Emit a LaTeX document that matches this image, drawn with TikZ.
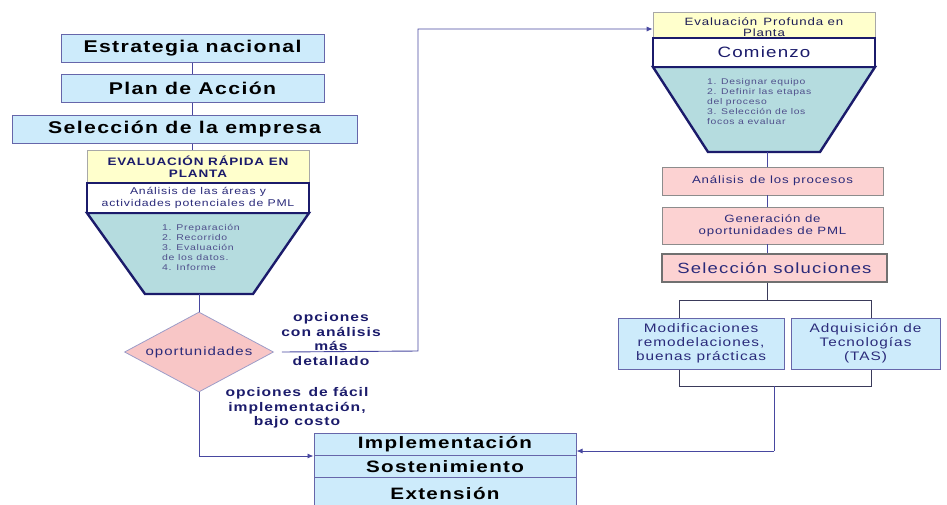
\documentclass[tikz,border=0pt]{standalone}
\usepackage{fontspec}
\setmainfont{Liberation Sans}[FakeStretch=1.25, LetterSpace=8]
\usetikzlibrary{arrows.meta, shapes.geometric}

\newcommand\setfs[2]{\fontsize{#1}{#2}\selectfont}

\definecolor{edgeblue}{HTML}{6666AA}
\definecolor{boxblue}{HTML}{CDEBFB}
\definecolor{paleyellow}{HTML}{FFFFCC}
\definecolor{titleedge}{HTML}{A8A8A8}
\definecolor{navy}{HTML}{1B1B6B}
\definecolor{funnelfill}{HTML}{B5DCDF}
\definecolor{pinkbox}{HTML}{FCD2D2}
\definecolor{pinkedge}{HTML}{8C8C8C}
\definecolor{diamondfill}{HTML}{F8C6C6}
\definecolor{diamondedge}{HTML}{9C9CC8}
\definecolor{linkcolor}{HTML}{4848A0}
\definecolor{branchcolor}{HTML}{3A3A5A}
\definecolor{navytext}{HTML}{2A2A7A}
\definecolor{softtext}{HTML}{50508C}

\tikzset{
  headbox/.style={draw=edgeblue, line width=1pt, fill=boxblue, minimum height=28pt,
    inner sep=0pt, font=\bfseries\setfs{17}{20}, text=black},
  titlebox/.style={draw=titleedge, line width=0.6pt, fill=paleyellow, inner sep=0pt,
    align=center},
  startbox/.style={draw=navy, line width=2.4pt, fill=white, inner sep=0pt, align=center},
  funnel/.style={draw=navy, line width=2.4pt, fill=funnelfill, line join=miter},
  listtext/.style={inner sep=0pt, align=left, text=softtext, font=\setfs{8.4}{10}},
  stepbox/.style={draw=pinkedge, line width=0.8pt, fill=pinkbox, inner sep=0pt,
    minimum width=221pt, minimum height=28pt, align=center, text=navytext,
    font=\setfs{10.6}{12}},
  optbox/.style={draw=edgeblue, line width=1pt, fill=boxblue, inner sep=0pt,
    minimum height=51pt, align=center, text=navytext, font=\setfs{12.3}{14}},
  decision/.style={shape=diamond, aspect=1.86, minimum width=149pt, minimum height=80pt,
    inner sep=0pt, draw=diamondedge, line width=0.8pt, fill=diamondfill, text=navytext,
    font=\setfs{12}{14}},
  pathlabel/.style={inner sep=0pt, align=center, text=navy, font=\bfseries\setfs{12.5}{14.5}},
  rowbox/.style={draw=edgeblue, line width=1pt, fill=boxblue, inner sep=0pt,
    minimum width=262pt, font=\bfseries\setfs{16.5}{19}, text=black},
  link/.style={draw=linkcolor, line width=0.9pt},
  branch/.style={draw=branchcolor, line width=0.9pt},
  arrowlink/.style={link, -{Latex[length=6pt, width=5pt]}},
}

\begin{document}
\begin{tikzpicture}[x=1pt, y=-1pt]
\useasboundingbox (0,0) rectangle (947,504);

% ---------- left column: national strategy down to the quick assessment
\node[headbox, minimum width=263pt] (est) at (192.5,48) {Estrategia nacional};
\node[headbox, minimum width=263pt] (plan) at (192.5,88.5) {Plan de Acción};
\node[headbox, minimum width=345pt] (firm) at (184.5,129) {Selección de la empresa};

\draw[funnel] (87,213) -- (309,213) -- (253,294) -- (145,294) -- cycle;
\coordinate (rapidtip) at (199,294);
\node[titlebox, minimum width=222pt, minimum height=33pt, text=navy,
  font=\bfseries\setfs{10.8}{11.5}] (rapid) at (198,166.5) {EVALUACIÓN RÁPIDA EN\\PLANTA};
\node[startbox, minimum width=222pt, minimum height=30pt, text=navytext,
  font=\setfs{9.8}{12}] (areas) at (198,198) {Análisis de las áreas y\\actividades potenciales de PML};
\node[listtext, anchor=west] (rapidsteps) at (162,247)
  {1. Preparación\\2. Recorrido\\3. Evaluación\\de los datos.\\4. Informe};

\draw[link] (est.south) -- (plan.north);
\draw[link] (plan.south) -- (plan.south |- firm.north);
\draw[link] (firm.south -| est) -- (rapid.north -| est);

% ---------- decision
\node[decision] (opp) at (199,352) {oportunidades};
\draw[link] (rapidtip) -- (opp.north);

\coordinate (riseturn) at (418,351);
\coordinate (risetop) at (418,29);
\node[pathlabel] (deeplabel) at (331,339) {opciones\\con análisis\\más\\detallado};
\node[pathlabel] (easylabel) at (297,408) {opciones \,de fácil\\implementación,\\bajo costo};

% ---------- right column: in-depth assessment
\draw[funnel] (653,67) -- (875,67) -- (820,152) -- (708,152) -- cycle;
\coordinate (proftip) at (767,152);
\node[titlebox, minimum width=222pt, minimum height=26pt] (prof) at (764,25) {};
\node[inner sep=0pt, align=center, text=navytext!70!black, font=\setfs{10.6}{11.5}]
  (proftext) at (764,27) {Evaluación \,Profunda en\\Planta};
\node[startbox, minimum width=222pt, minimum height=29pt, text=navy,
  font=\setfs{15}{17}] (start) at (764,52.5) {Comienzo};
\node[listtext, anchor=west, font=\setfs{8.3}{10}] (profsteps) at (707,102)
  {1. Designar equipo\\2. Definir las etapas\\del proceso\\3. Selección de los\\focos a evaluar};

\node[stepbox] (procs) at (772.5,181) {Análisis \,de los procesos};
\node[stepbox, minimum height=37pt] (gen) at (772.5,225.5) {Generación de\\oportunidades de PML};
\node[stepbox, minimum width=225pt, line width=1.2pt, draw=pinkedge!80!black,
  font=\setfs{14.8}{17}] (pick) at (774.5,268) {Selección soluciones};

\draw[link] (proftip) -- (proftip |- procs.north);
\draw[link] (procs.south -| proftip) -- (gen.north -| proftip);
\draw[link] (gen.south -| proftip) -- (pick.north -| proftip);

\node[optbox, minimum width=166pt] (mod) at (701,343.5) {Modificaciones\\remodelaciones,\\buenas prácticas};
\node[optbox, minimum width=149pt] (adq) at (865.5,343.5) {Adquisición de\\Tecnologías\\(TAS)};

\coordinate (split) at (767,300);
\coordinate (splitL) at (679,300);
\coordinate (splitR) at (871,300);
\coordinate (joinL) at (679,386);
\coordinate (joinR) at (871,386);
\coordinate (merge) at (774,386);
\draw[branch] (pick.south -| split) -- (split);
\draw[branch] (splitL |- mod.north) -- (splitL) -- (splitR) -- (splitR |- adq.north);
\draw[branch] (joinL |- mod.south) -- (joinL) -- (joinR) -- (joinR |- adq.south);

% ---------- implementation block (runs off the lower edge)
\node[rowbox, minimum height=22pt] (impl) at (445,444.5) {Implementación};
\node[rowbox, minimum height=22pt] (sust) at (445,466.5) {Sostenimiento};
\node[rowbox, minimum height=30pt, text depth=0pt] (ext) at (445,492.5) {\raisebox{-2pt}{Extensión}};

% ---------- routes out of the decision and the merge
\draw[arrowlink] ([xshift=8pt]opp.east) -- (riseturn) -- (risetop) -- (risetop -| prof.west);
\draw[arrowlink] (opp.south) |- (impl.south west);
\draw[link] (merge) -- ([yshift=5pt]merge |- impl.south east);
\draw[arrowlink] ([yshift=5pt]merge |- impl.south east) -- ([yshift=5pt]impl.south east);
\end{tikzpicture}
\end{document}
